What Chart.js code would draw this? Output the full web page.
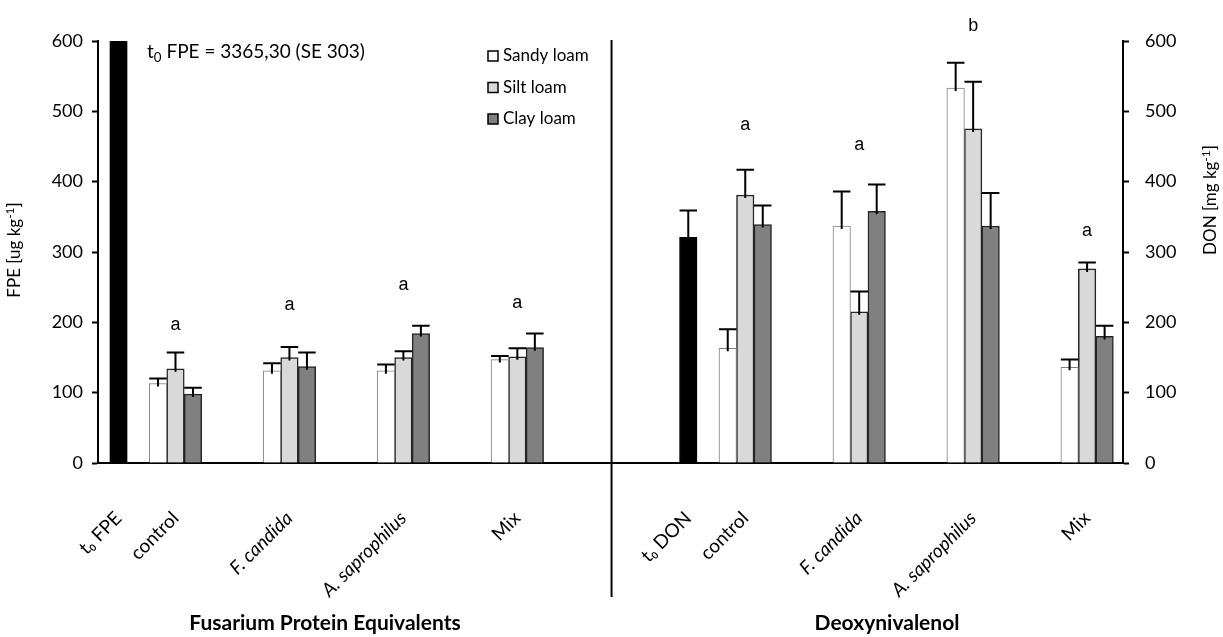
<!DOCTYPE html>
<html lang="en">
<head>
  <meta charset="UTF-8" />
  <title>FPE and DON by soil type</title>
  <script src="https://cdn.jsdelivr.net/npm/chart.js"></script>
  <style>
    body { margin: 0; background: #fff; }
    #wrap { width: 1223px; height: 637px; }
  </style>
</head>
<body>
  <div id="wrap"><canvas id="chart" width="1223" height="637"></canvas></div>

  <script>
    // categories, left part (FPE) and right part (DON)
    const fpeCats = ["t₀ FPE", "control", "F. candida", "A. saprophilus", "Mix"];
    const donCats = ["t₀ DON", "control", "F. candida", "A. saprophilus", "Mix"];
    const italicCats = ["F. candida", "A. saprophilus"];
    // slot of each category on the x axis (empty slots between groups)
    const fpeSlot = [0, 1, 3, 5, 7];
    const donSlot = [10, 11, 13, 15, 17];

    const soils = ["Sandy loam", "Silt loam", "Clay loam"];

    // FPE [ug kg-1]: means and SE
    const fpeT0 = [3365.3, null, null, null, null];
    const fpeT0SE = [303, null, null, null, null];
    const fpeSandy = [null, 113, 131, 131, 147];
    const fpeSandySE = [null, 7, 11, 9, 5];
    const fpeSilt = [null, 134, 150, 150, 151];
    const fpeSiltSE = [null, 23, 15, 9, 12];
    const fpeClay = [null, 98, 137, 184, 164];
    const fpeClaySE = [null, 9, 20, 11, 20];

    // DON [mg kg-1]: means and SE
    const donT0 = [321, null, null, null, null];
    const donT0SE = [38, null, null, null, null];
    const donSandy = [null, 163, 337, 533, 136];
    const donSandySE = [null, 27, 49, 36, 11];
    const donSilt = [null, 381, 215, 475, 276];
    const donSiltSE = [null, 36, 29, 67, 9];
    const donClay = [null, 339, 358, 337, 180];
    const donClaySE = [null, 27, 38, 47, 15];

    // significance letters and the value they sit at
    const fpeLetters = [null, "a", "a", "a", "a"];
    const fpeLetterY = [null, 196, 225, 253, 228];
    const donLetters = [null, "a", "a", "b", "a"];
    const donLetterY = [null, 481, 452, 621, 330];

    const yMax = 600;
    const yStep = 100;

    const allCats = fpeCats.concat(donCats);
    const allSlots = fpeSlot.concat(donSlot);
    const blank = [null, null, null, null, null];

    function serie(label, vals, se, axis, fill, border, bw) {
      const isFpe = axis === "y";
      const ys = isFpe ? vals.concat(blank) : blank.concat(vals);
      const es = isFpe ? se.concat(blank) : blank.concat(se);
      return {
        label, yAxisID: axis, se: es,
        data: allSlots.map((x, i) => ({ x, y: ys[i] })),
        backgroundColor: fill, borderColor: border, borderWidth: bw,
        barThickness: 17.5, skipNull: true
      };
    }

    const sandyFill = "#ffffff", siltFill = "#d9d9d9", clayFill = "#808080";

    const datasets = [
      serie("t₀ FPE", fpeT0, fpeT0SE, "y", "#000", "#000", 1),
      serie(soils[0], fpeSandy, fpeSandySE, "y", sandyFill, "#7f7f7f", 1),
      serie(soils[1], fpeSilt, fpeSiltSE, "y", siltFill, "#262626", 1.5),
      serie(soils[2], fpeClay, fpeClaySE, "y", clayFill, "#262626", 1.5),
      serie("t₀ DON", donT0, donT0SE, "y2", "#000", "#000", 1),
      serie(soils[0], donSandy, donSandySE, "y2", sandyFill, "#7f7f7f", 1),
      serie(soils[1], donSilt, donSiltSE, "y2", siltFill, "#262626", 1.5),
      serie(soils[2], donClay, donClaySE, "y2", clayFill, "#262626", 1.5)
    ];

    // text with sub/superscript parts: [["FPE [ug kg"], ["-1", "sup"], ["]"]]
    function runsWidth(ctx, runs, size, weight) {
      let w = 0;
      runs.forEach(r => {
        ctx.font = `${weight || "normal"} ${r[1] ? size * 0.7 : size}px Lato`;
        w += ctx.measureText(r[0]).width;
      });
      return w;
    }
    function drawRuns(ctx, runs, x, y, size, weight) {
      let cx = x - runsWidth(ctx, runs, size, weight) / 2;
      ctx.textAlign = "left";
      ctx.textBaseline = "middle";
      runs.forEach(r => {
        ctx.font = `${weight || "normal"} ${r[1] ? size * 0.7 : size}px Lato`;
        const dy = r[1] === "sup" ? -size * 0.3 : r[1] === "sub" ? size * 0.3 : 0;
        ctx.fillText(r[0], cx, y + dy);
        cx += ctx.measureText(r[0]).width;
      });
    }

    const extras = {
      id: "extras",
      afterDatasetsDraw(chart) {
        const { ctx, chartArea: a } = chart;
        ctx.save();
        ctx.beginPath();
        ctx.rect(a.left, a.top, a.right - a.left, a.bottom - a.top);
        ctx.clip();
        ctx.strokeStyle = "#000";
        ctx.lineWidth = 2;
        chart.data.datasets.forEach((ds, di) => {
          const meta = chart.getDatasetMeta(di);
          const ys = chart.scales[ds.yAxisID];
          ds.data.forEach((p, i) => {
            if (p.y == null || ds.se[i] == null) return;
            const bar = meta.data[i];
            const top = ys.getPixelForValue(p.y + ds.se[i]);
            const half = bar.width / 2;
            ctx.beginPath();
            ctx.moveTo(bar.x, bar.y + 3);
            ctx.lineTo(bar.x, top);
            ctx.moveTo(bar.x - half, top);
            ctx.lineTo(bar.x + half, top);
            ctx.stroke();
          });
        });
        ctx.restore();
      },
      afterDraw(chart) {
        const { ctx, chartArea: a, scales } = chart;
        ctx.save();
        ctx.fillStyle = "#000";

        // significance letters
        ctx.font = "18px 'Liberation Sans', Arial";
        ctx.textAlign = "center";
        ctx.textBaseline = "middle";
        fpeLetters.forEach((l, i) => {
          if (l) ctx.fillText(l, scales.x.getPixelForValue(fpeSlot[i]), scales.y.getPixelForValue(fpeLetterY[i]));
        });
        donLetters.forEach((l, i) => {
          if (l) ctx.fillText(l, scales.x.getPixelForValue(donSlot[i]), scales.y2.getPixelForValue(donLetterY[i]));
        });

        // divider between the two parts
        const lastFpe = chart.getDatasetMeta(3).data[4];
        const firstDon = chart.getDatasetMeta(4).data[5];
        const xd = ((lastFpe.x + lastFpe.width / 2) + (firstDon.x - firstDon.width / 2)) / 2;
        ctx.strokeStyle = "#000";
        ctx.lineWidth = 2;
        ctx.beginPath();
        ctx.moveTo(xd, a.top - 1);
        ctx.lineTo(xd, a.bottom + 134);
        ctx.stroke();

        // legend
        const lx = a.left + 390, ly = a.top + 15;
        ctx.lineWidth = 1.5;
        soils.forEach((s, i) => {
          const y = ly + i * 31.5;
          ctx.fillStyle = datasets[i + 1].backgroundColor;
          ctx.fillRect(lx, y - 5, 10, 10);
          ctx.strokeStyle = "#000";
          ctx.strokeRect(lx, y - 5, 10, 10);
          ctx.fillStyle = "#000";
          ctx.font = "17px Lato";
          ctx.textAlign = "left";
          ctx.textBaseline = "middle";
          ctx.fillText(s, lx + 15, y);
        });

        // t0 FPE note (bar is cut at the top of the axis)
        const note = fpeT0[0].toFixed(2).replace(".", ",");
        const noteRuns = [["t"], ["0", "sub"], [` FPE = ${note} (SE ${fpeT0SE[0]})`]];
        const nw = runsWidth(ctx, noteRuns, 19);
        drawRuns(ctx, noteRuns, a.left + 49 + nw / 2, a.top + 11, 19);

        // axis titles
        ctx.save();
        ctx.translate(15, 250);
        ctx.rotate(-Math.PI / 2);
        drawRuns(ctx, [["FPE [ug kg"], ["-1", "sup"], ["]"]], 0, 0, 17);
        ctx.restore();
        ctx.save();
        ctx.translate(1211, 200);
        ctx.rotate(-Math.PI / 2);
        drawRuns(ctx, [["DON [mg kg"], ["-1", "sup"], ["]"]], 0, 0, 17);
        ctx.restore();

        // part titles
        ctx.fillStyle = "#000";
        ctx.textAlign = "center";
        ctx.textBaseline = "middle";
        ctx.font = "bold 21px Lato";
        ctx.fillText("Fusarium Protein Equivalents", 325, 623);
        ctx.fillText("Deoxynivalenol", 887, 623);
        ctx.restore();
      }
    };

    const yAxis = (pos, pad, width) => ({
      type: "linear", position: pos, min: 0, max: yMax,
      ticks: { stepSize: yStep, color: "#000", font: { family: "Lato", size: 18 }, padding: pad },
      grid: { drawOnChartArea: false, tickLength: 6, tickWidth: 2, tickColor: "#000" },
      border: { color: "#000", width: 2 },
      afterFit(s) { s.width = width; }
    });

    new Chart(document.getElementById("chart"), {
      type: "bar",
      data: { datasets },
      options: {
        responsive: false,
        animation: false,
        layout: { padding: { top: 41, left: 0, right: 0, bottom: 0 } },
        plugins: { legend: { display: false }, tooltip: { enabled: false } },
        scales: {
          x: {
            type: "linear", min: -0.36, max: 17.63, offset: false,
            grid: { display: false, drawTicks: false, offset: false },
            border: { color: "#000", width: 2 },
            afterBuildTicks(s) { s.ticks = allSlots.map(v => ({ value: v })); },
            afterFit(s) { s.height = 174; },
            ticks: {
              autoSkip: false, minRotation: 45, maxRotation: 45, padding: 44, color: "#000",
              callback: (v, i) => allCats[i],
              font: (c) => ({ family: "Lato", size: 19, style: italicCats.includes(allCats[c.index]) ? "italic" : "normal" })
            }
          },
          y: yAxis("left", 9, 98),
          y2: yAxis("right", 16, 100)
        }
      },
      plugins: [extras]
    });
  </script>
</body>
</html>
